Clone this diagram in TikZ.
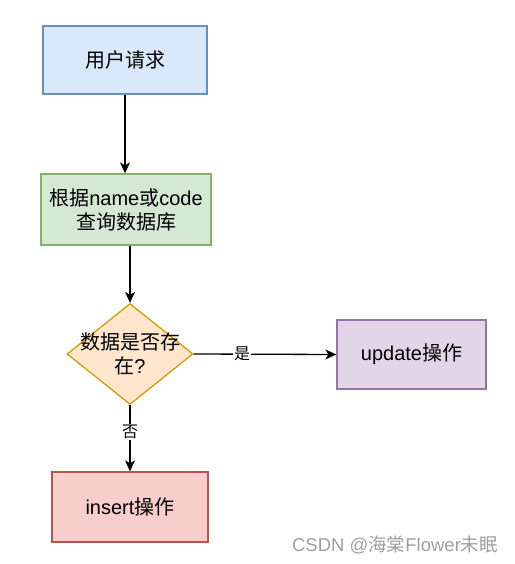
\documentclass[tikz,border=0pt]{standalone}
\usepackage{fontspec}
\setmainfont{Liberation Sans}
\newfontfamily\cjk{Noto Sans CJK SC}
\usetikzlibrary{shapes.geometric, arrows.meta, positioning}
\definecolor{reqfill}{HTML}{DAE8FC}
\definecolor{reqline}{HTML}{6C8EBF}
\definecolor{qryfill}{HTML}{D5E8D4}
\definecolor{qryline}{HTML}{82B366}
\definecolor{decfill}{HTML}{FFE6CC}
\definecolor{decline}{HTML}{D79B00}
\definecolor{updfill}{HTML}{E1D5E7}
\definecolor{updline}{HTML}{9673A6}
\definecolor{insfill}{HTML}{F8CECC}
\definecolor{insline}{HTML}{B85450}
\tikzset{
>={Stealth[length=11pt,width=10pt,inset=3pt]}, % block arrow heads
every node/.style={font=\fontsize{20}{24}\selectfont}, % all text
box/.style={rectangle, line width=1.3pt, align=center, inner sep=0pt}, % process boxes
decision/.style={diamond, line width=1.3pt, inner sep=0pt, draw=decline, fill=decfill}, % the test
flow/.style={line width=1.3pt}, % connectors
yesno/.style={fill=white, inner sep=1pt, font=\fontsize{16}{18}\selectfont}, % edge labels
}

\begin{document}
\begin{tikzpicture}[x=1pt, y=1pt]
  \useasboundingbox (0,0) rectangle (514,-564);

  % Boxes
  \node[box, draw=reqline, fill=reqfill, minimum width=164pt, minimum height=68pt] (req) at (125,-60) {\cjk 用户请求};
  \node[box, draw=qryline, fill=qryfill, minimum width=170pt, minimum height=71pt] (query) at (126,-209.5)
    {{\cjk 根据}name{\cjk 或}code\\{\cjk 查询数据库}};
  \node[decision, minimum width=126pt, minimum height=101pt] (dec) at (130,-354) {};
  \node[align=center] (dectext) at (dec) {{\cjk 数据是否存}\\{\cjk 在}?};
  \node[box, draw=updline, fill=updfill, minimum width=149pt, minimum height=69pt] (upd) at (411.5,-354.5) {update{\cjk 操作}};
  \node[box, draw=insline, fill=insfill, minimum width=156pt, minimum height=70pt] (ins) at (130,-507) {insert{\cjk 操作}};

  % Connectors
  \draw[flow, ->] (req.south) -- (req.south |- query.north);
  \draw[flow, ->] (query.south -| dec.north) -- (dec.north);
  \draw[flow, ->] (dec.east) -- node[yesno, pos=0.34] {\cjk 是} (upd.west);
  \draw[flow, ->] (dec.south) -- node[yesno, pos=0.41] {\cjk 否} (ins.north);

  % Watermark
  \node[text=black!38, font=\fontsize{18.5}{20}\selectfont] (mark) at (395,-545) {CSDN @{\cjk 海棠}Flower{\cjk 未眠}};
\end{tikzpicture}
\end{document}
